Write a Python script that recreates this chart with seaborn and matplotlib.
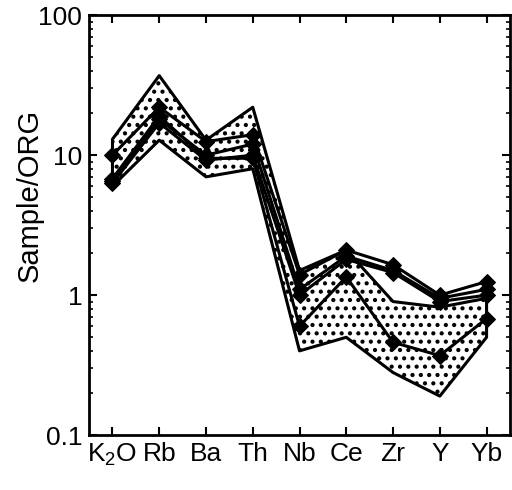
import numpy as np
import pandas as pd
import matplotlib
matplotlib.use("Agg")
import matplotlib.pyplot as plt
import seaborn as sns
from matplotlib.ticker import LogLocator, NullFormatter

sns.set_style("ticks")
plt.rcParams['font.family'] = ['Liberation Sans', 'DejaVu Sans']
plt.rcParams['mathtext.default'] = 'regular'
plt.rcParams['hatch.linewidth'] = 1.8
plt.rcParams['text.color'] = 'black'
plt.rcParams['axes.labelcolor'] = 'black'
plt.rcParams['xtick.color'] = 'black'
plt.rcParams['ytick.color'] = 'black'

# Elements (normalised to ORG)
elements = [r'K$_2$O', 'Rb', 'Ba', 'Th', 'Nb', 'Ce', 'Zr', 'Y', 'Yb']

# Envelope (dotted field)
env_upper = [13, 37, 12.8, 22, 1.5, 2.1, 0.9, 0.82, 0.95]
env_lower = [6.0, 12.8, 7.0, 8.0, 0.4, 0.5, 0.28, 0.19, 0.5]

# Individual samples
s1 = [10, 22, 12.5, 14, 1.4, 2.1, 1.65, 1.0, 1.25]
s2 = [6.5, 18, 10, 12, 1.1, 1.9, 1.5, 0.95, 1.1]
s3 = [6.3, 17, 9.2, 10, 1.0, 1.8, 1.45, 0.9, 1.0]
s4 = [6.8, 19, 9.5, 9.5, 0.6, 1.35, 0.46, 0.37, 0.68]

pos = np.arange(len(elements))
rows = []
for name, vals in [('s1', s1), ('s2', s2), ('s3', s3), ('s4', s4)]:
    for p, v in zip(pos, vals):
        rows.append({'sample': name, 'pos': p, 'value': v})
df = pd.DataFrame(rows)

fig = plt.figure(figsize=(5.12, 4.9), dpi=100)
ax = fig.add_axes([0.174, 0.112, 0.822, 0.857])

ax.fill_between(pos, env_lower, env_upper, facecolor='white', edgecolor='black',
                hatch='..', linewidth=2.2, zorder=1)

sns.lineplot(data=df, x='pos', y='value', units='sample', estimator=None,
             color='black', marker='D', markersize=8, markeredgecolor='black',
             linewidth=2.2, ax=ax, zorder=3, legend=False)

ax.set_yscale('log')
ax.set_ylim(0.1, 100)
ax.set_xlim(-0.5, len(elements) - 0.5)
ax.set_xticks(pos)
ax.set_xticklabels(elements)
ax.set_yticks([0.1, 1, 10, 100])
ax.set_yticklabels(['0.1', '1', '10', '100'])
ax.yaxis.set_minor_locator(LogLocator(base=10, subs=np.arange(2, 10)))
ax.yaxis.set_minor_formatter(NullFormatter())
ax.set_xlabel('')
ax.set_ylabel('Sample/ORG', fontsize=21)
ax.yaxis.set_label_coords(-0.107, 0.57)

for s in ax.spines.values():
    s.set_linewidth(2)
    s.set_color('black')
ax.tick_params(which='both', direction='in', top=True, right=True)
ax.tick_params(which='major', length=6, width=1.5, labelsize=19, pad=5)
ax.tick_params(which='minor', length=3, width=1.2)

plt.savefig('out.png', dpi=100)
